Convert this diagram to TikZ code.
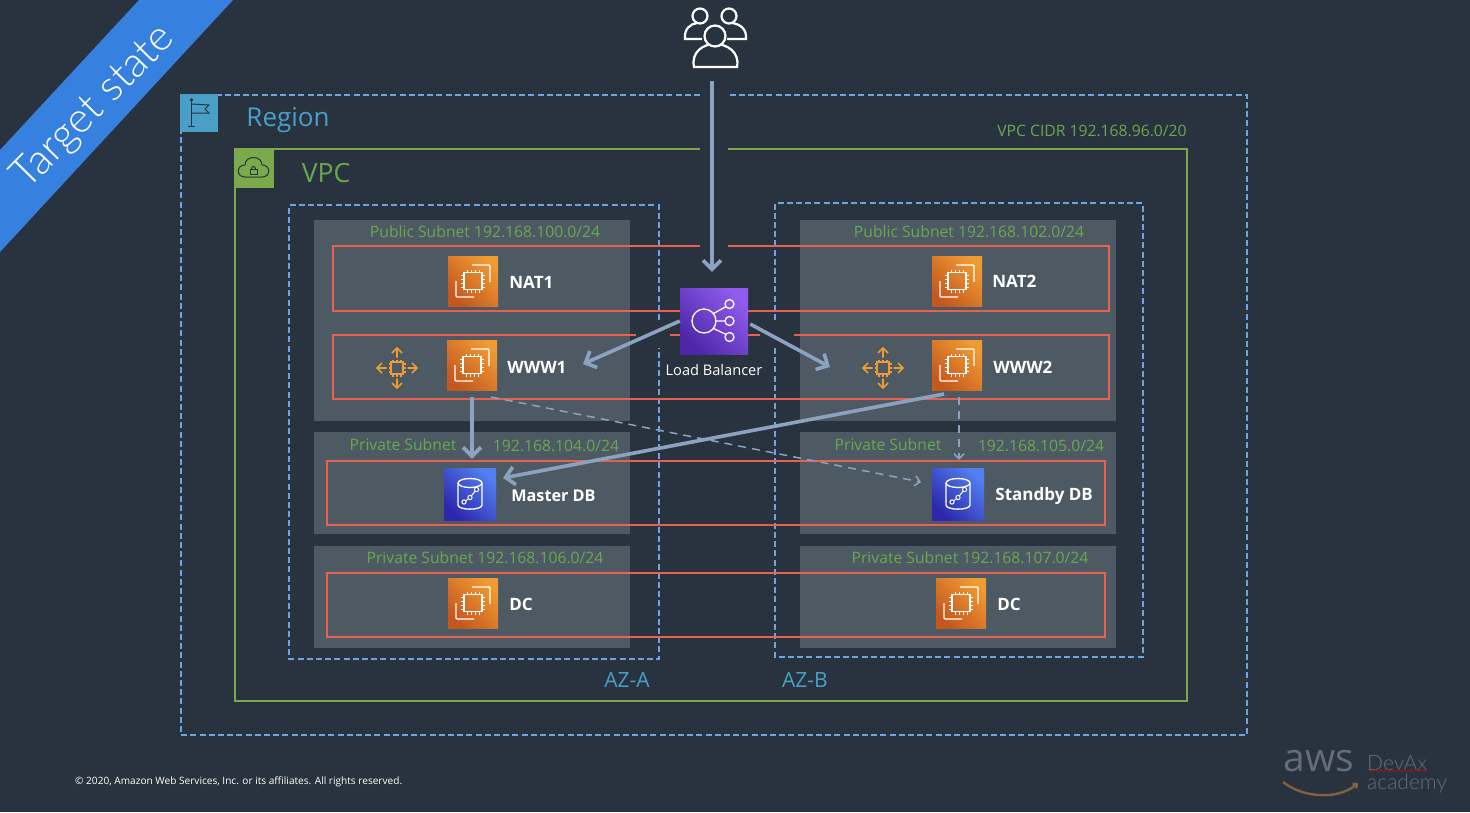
\documentclass[tikz,border=0pt]{standalone}
\usepackage{fontspec}
\setmainfont{Open Sans}
\newfontfamily\thinfont{Lato Light}
\usetikzlibrary{positioning, arrows.meta, decorations.pathmorphing}

\definecolor{bgdark}{HTML}{29333F}
\definecolor{subnetgray}{HTML}{4D5A64}
\definecolor{redline}{HTML}{E8604F}
\definecolor{subnetgreen}{HTML}{6AA84F}
\definecolor{vpcgreen}{HTML}{7AAA4B}
\definecolor{azblue}{HTML}{6FA5DE}
\definecolor{regionteal}{HTML}{499FC6}
\definecolor{flowblue}{HTML}{8BA3C0}
\definecolor{bannerblue}{HTML}{3681E0}
\definecolor{autoorange}{HTML}{F09A32}
\definecolor{logogray}{HTML}{636C78}
\definecolor{ecdark}{HTML}{C4581F}
\definecolor{eclight}{HTML}{F09A32}
\definecolor{rdsdark}{HTML}{2E27AD}
\definecolor{rdslight}{HTML}{527FEF}
\definecolor{elbdark}{HTML}{4D27A8}
\definecolor{elblight}{HTML}{8F5CEC}
\newcommand{\fsz}[1]{\fontsize{#1}{#1}\selectfont}

\begin{document}
\begin{tikzpicture}[
    x=1pt, y=-1pt,
    subnet/.style={fill=subnetgray},
    azbox/.style={draw=azblue, line width=1.4pt, dash pattern=on 6pt off 3.2pt},
    redbox/.style={draw=redline, line width=1.5pt},
    vpcline/.style={draw=vpcgreen, line width=1.6pt},
    ec2/.style={minimum size=50pt, inner sep=0pt, bottom color=ecdark, top color=eclight, shading angle=-45},
    rds/.style={minimum size=52pt, inner sep=0pt, bottom color=rdsdark, top color=rdslight, shading angle=-45},
    elb/.style={minimum width=68pt, minimum height=66pt, inner sep=0pt, bottom color=elbdark, top color=elblight, shading angle=-45},
    iconlabel/.style={text=white, font=\fsz{17}\bfseries, inner sep=0pt},
    greenlabel/.style={text=subnetgreen, font=\fsz{15.7}, inner sep=0pt},
    azlabel/.style={text=regionteal, font=\fsz{21}, inner sep=0pt},
    arrow/.style={draw=flowblue, line width=3.6pt, -{Straight Barb[length=9pt, width=18pt]}},
    dasharrow/.style={draw=flowblue, line width=1.5pt, dash pattern=on 8pt off 6pt, -{Straight Barb[length=5pt, width=10pt]}},
    glyph/.style={draw=white, line width=1.3pt},
    darkglyph/.style={draw=bgdark, line width=1pt},
    chip/.pic={
      \draw[glyph] (-9,-8.5) rectangle (9,8.5);
      \foreach \t in {-6,-2,2,6} {
        \draw[glyph, line width=1pt] (\t,-8.5) -- (\t,-11.5);
        \draw[glyph, line width=1pt] (\t,8.5) -- (\t,11.5);
        \draw[glyph, line width=1pt] (-9,\t) -- (-12,\t);
        \draw[glyph, line width=1pt] (9,\t) -- (12,\t);
      }
      \draw[glyph, rounded corners=1pt] (-1,-16) -- (17,-16) -- (17,1);
      \draw[glyph, rounded corners=1pt] (-17,0) -- (-17,16) -- (1,16);
    },
    autoscale/.pic={
      \draw[draw=autoorange, line width=1.5pt] (-6,-6) rectangle (6,6);
      \foreach \t in {-4,0,4} {
        \draw[draw=autoorange, line width=1.4pt] (\t,-6) -- (\t,-8.5);
        \draw[draw=autoorange, line width=1.4pt] (\t,6) -- (\t,8.5);
        \draw[draw=autoorange, line width=1.4pt] (-6,\t) -- (-8.5,\t);
        \draw[draw=autoorange, line width=1.4pt] (6,\t) -- (8.5,\t);
      }
      \foreach \r in {0,90,180,270} {
        \draw[draw=autoorange, line width=1.7pt, rotate=\r] (10.5,0) -- (20,0) (15,-5) -- (20,0) -- (15,5);
      }
    },
    dbglyph/.pic={
      \draw[glyph] (-12,-11) -- (-12,11) .. controls (-12,16.5) and (12,16.5) .. (12,11) -- (12,-11);
      \draw[glyph] (0,-11) ellipse[x radius=12, y radius=4.5];
      \draw[glyph, line width=1pt] (-6,8) -- (0,3.5) -- (6.5,-4.5);
      \foreach \p in {(-6,8),(0,3.5),(6.5,-4.5)} {
        \draw[glyph, line width=1pt, fill=rdsdark!70!rdslight] \p circle[radius=2.1];
      }
    },
  ]
  \useasboundingbox (0,0) rectangle (1470,812);
  \fill[bgdark] (0,0) rectangle (1470,812);

  % banner
  \fill[bannerblue] (139,0) -- (233,0) -- (0,252) -- (0,150) -- cycle;
  \node[text=white, font=\fsz{42}\thinfont, rotate=45.5, inner sep=0pt] (banner) at (94,108) {Target state};

  % subnets
  \path[subnet] (314,220) rectangle (630,421);
  \path[subnet] (800,220) rectangle (1116,421);
  \path[subnet] (314,432) rectangle (630,534);
  \path[subnet] (800,432) rectangle (1116,534);
  \path[subnet] (314,546) rectangle (630,648);
  \path[subnet] (800,546) rectangle (1116,648);

  % region and vpc
  \draw[azbox] (700,95) -- (181,95) -- (181,735) -- (1247,735) -- (1247,95) -- (728,95);
  \draw[vpcline] (700,149) -- (235,149) -- (235,701) -- (1187,701) -- (1187,149) -- (728,149);
  \fill[regionteal] (180,94) rectangle (218,132);
  \fill[vpcgreen] (234,148) rectangle (274,188);

  % flag
  \draw[darkglyph] (191.5,102) -- (191.5,126) (188,126) -- (195,126);
  \draw[darkglyph] (191.5,100) circle[radius=1.2];
  \draw[darkglyph] (191.5,104) -- (209,105) -- (205,109) -- (209,113) -- (191.5,113);
  % cloud
  \draw[darkglyph] (245,177) .. controls (236,177) and (236,165) .. (245,165)
    .. controls (245,155) and (262,155) .. (262,165)
    .. controls (271,165) and (271,177) .. (262,177) -- cycle;
  \draw[darkglyph] (250,169) rectangle (257,174);
  \draw[darkglyph] (251.5,169) arc[start angle=180, end angle=0, x radius=2, y radius=-2.5];

  \node[text=regionteal, font=\fsz{26}, inner sep=0pt] (region) at (288,120.5) {Region};
  \node[text=subnetgreen, font=\fsz{26.5}, inner sep=0pt] (vpc) at (326,173) {VPC};
  \node[greenlabel] (cidr) at (1092,130.5) {VPC CIDR 192.168.96.0/20};

  % availability zones
  \draw[azbox] (659,320) -- (659,205) -- (289,205) -- (289,659) -- (659,659) -- (659,348);
  \draw[azbox] (775,320) -- (775,203) -- (1143,203) -- (1143,657) -- (775,657) -- (775,348);
  \node[azlabel] (aza) at (627,680) {AZ-A};
  \node[azlabel] (azb) at (805,680) {AZ-B};

  % subnet labels
  \node[greenlabel] (pub1) at (485,232) {Public Subnet 192.168.100.0/24};
  \node[greenlabel] (pub2) at (969,232) {Public Subnet 192.168.102.0/24};
  \node[greenlabel] (priv1) at (403,445) {Private Subnet};
  \node[greenlabel] (cidr1) at (556,446) {192.168.104.0/24};
  \node[greenlabel] (priv2) at (888,445) {Private Subnet};
  \node[greenlabel] (cidr2) at (1041,446) {192.168.105.0/24};
  \node[greenlabel] (priv3) at (485,558) {Private Subnet 192.168.106.0/24};
  \node[greenlabel] (priv4) at (970,558) {Private Subnet 192.168.107.0/24};

  % red boxes
  \draw[redbox] (700,246) -- (333,246) -- (333,311) -- (680,311) (748,311) -- (1109,311) -- (1109,246) -- (728,246);
  \draw[redbox] (636,335) -- (333,335) -- (333,399) -- (1109,399) -- (1109,335) -- (794,335) (760,335) -- (748,335) (680,335) -- (670,335);
  \draw[redbox] (327,461) rectangle (1105,525);
  \draw[redbox] (327,573) rectangle (1105,637);

  % instances
  \node[ec2] (nat1) at (473,281) {};
  \node[ec2] (www1) at (472,365) {};
  \node[ec2] (nat2) at (957,281) {};
  \node[ec2] (www2) at (957,365) {};
  \node[ec2] (dc1) at (473,603) {};
  \node[ec2] (dc2) at (961,603) {};
  \foreach \n in {nat1,www1,nat2,www2,dc1,dc2} {
    \pic at (\n) {chip};
  }
  \node[rds] (master) at (470,494) {};
  \node[rds] (standby) at (958,494) {};
  \pic at (master) {dbglyph};
  \pic at (standby) {dbglyph};
  \pic at (397,368) {autoscale};
  \pic at (883,368) {autoscale};

  \node[iconlabel, right=11pt of nat1, yshift=-1.5pt] (nat1txt) {NAT1};
  \node[iconlabel, right=10pt of www1, yshift=-2pt] (www1txt) {WWW1};
  \node[iconlabel, right=10pt of nat2] (nat2txt) {NAT2};
  \node[iconlabel, right=11pt of www2, yshift=-2pt] (www2txt) {WWW2};
  \node[iconlabel, right=11pt of dc1, yshift=-1.5pt] (dc1txt) {DC};
  \node[iconlabel, right=11pt of dc2, yshift=-1.5pt] (dc2txt) {DC};
  \node[iconlabel, font=\fsz{16.2}\bfseries, right=15pt of master, yshift=-2pt] (mastertxt) {Master DB};
  \node[iconlabel, right=11pt of standby, yshift=-2pt] (standbytxt) {Standby DB};

  % load balancer
  \node[elb] (lb) at (714,321) {};
  \draw[glyph] (704,321) circle[radius=12];
  \foreach \yy in {-17,0,16} {
    \draw[glyph] (729.5,321+\yy) circle[radius=4.5];
  }
  \draw[glyph] (713.5,313.5) -- (725.8,306.7) (716,321) -- (725,321) (713.5,328.5) -- (725.8,334.3);
  \node[text=white, font=\fsz{14.6}, inner sep=0pt, below=9.5pt of lb] (lbtxt) {Load Balancer};

  % users
  \node[minimum width=64pt, minimum height=74pt, inner sep=0pt] (users) at (712,44) {};
  \begin{scope}[draw=white, line width=2.2pt, double=bgdark, double distance=0.8pt]
    \draw (700,16) circle[radius=7.5];
    \draw (729,16) circle[radius=7.5];
    \draw (702,39) -- (685,39) .. controls (684,29) and (690,24) .. (697,23);
    \draw (732,23) .. controls (740,24) and (747,29) .. (746,39) -- (727,39);
    \draw[fill=bgdark] (694,67) .. controls (691,52) and (703,44) .. (715,44) .. controls (727,44) and (740,52) .. (737,67) -- cycle;
    \draw[fill=bgdark] (715,36) circle[radius=10.5];
  \end{scope}

  % connectors
  \coordinate (www1tip) at (583,364);
  \coordinate (www2tip) at (830,367);
  \coordinate (masterin) at (503,478);
  \coordinate (www2out) at (944,394);
  \coordinate (www1out) at (491,397);
  \coordinate (standbyin) at (921,482);
  \draw[arrow, shorten >=16pt] (users.south) -- (users.south |- lb.north);
  \draw[arrow] (lb.west) -- (www1tip);
  \draw[arrow] (lb.east) ++(2,3) -- (www2tip);
  \draw[arrow, shorten <=7pt, shorten >=9pt] (www1.south) -- (www1.south |- master.north);
  \draw[arrow] (www2out) -- (masterin);
  \draw[dasharrow] (www1out) -- (standbyin);
  \draw[dasharrow, shorten <=7pt, shorten >=8pt] ([xshift=2pt]www2.south) -- ([xshift=2pt]www2.south |- standby.north);

  % footer
  \node[text=white, font=\fsz{10.1}, anchor=west, inner sep=0pt] (copyr) at (75,782) {© 2020, Amazon Web Services, Inc. or its affiliates. All rights reserved.};
  \node[text=logogray, font=\fsz{39}, inner sep=0pt] (awslogo) at (1319,761) {aws};
  \coordinate (smilestart) at (1283,782);
  \coordinate (smileend) at (1358,783);
  \draw[draw=brown!60!bgdark, line width=2.4pt, -{Straight Barb[length=3pt, width=6pt]}] (smilestart) .. controls (1303,798) and (1338,800) .. (smileend);
  \node[text=logogray, font=\fsz{21}\thinfont, anchor=west, inner sep=0pt] (devax) at (1367,763) {DevAx};
  \node[text=logogray, font=\fsz{21}\thinfont, anchor=west, inner sep=0pt] (academy) at (1367,784) {academy};
  \draw[draw=red!50!bgdark, line width=1pt, decorate, decoration={snake, amplitude=1pt, segment length=6pt}] (devax.south west) -- (devax.south east);
\end{tikzpicture}
\end{document}
